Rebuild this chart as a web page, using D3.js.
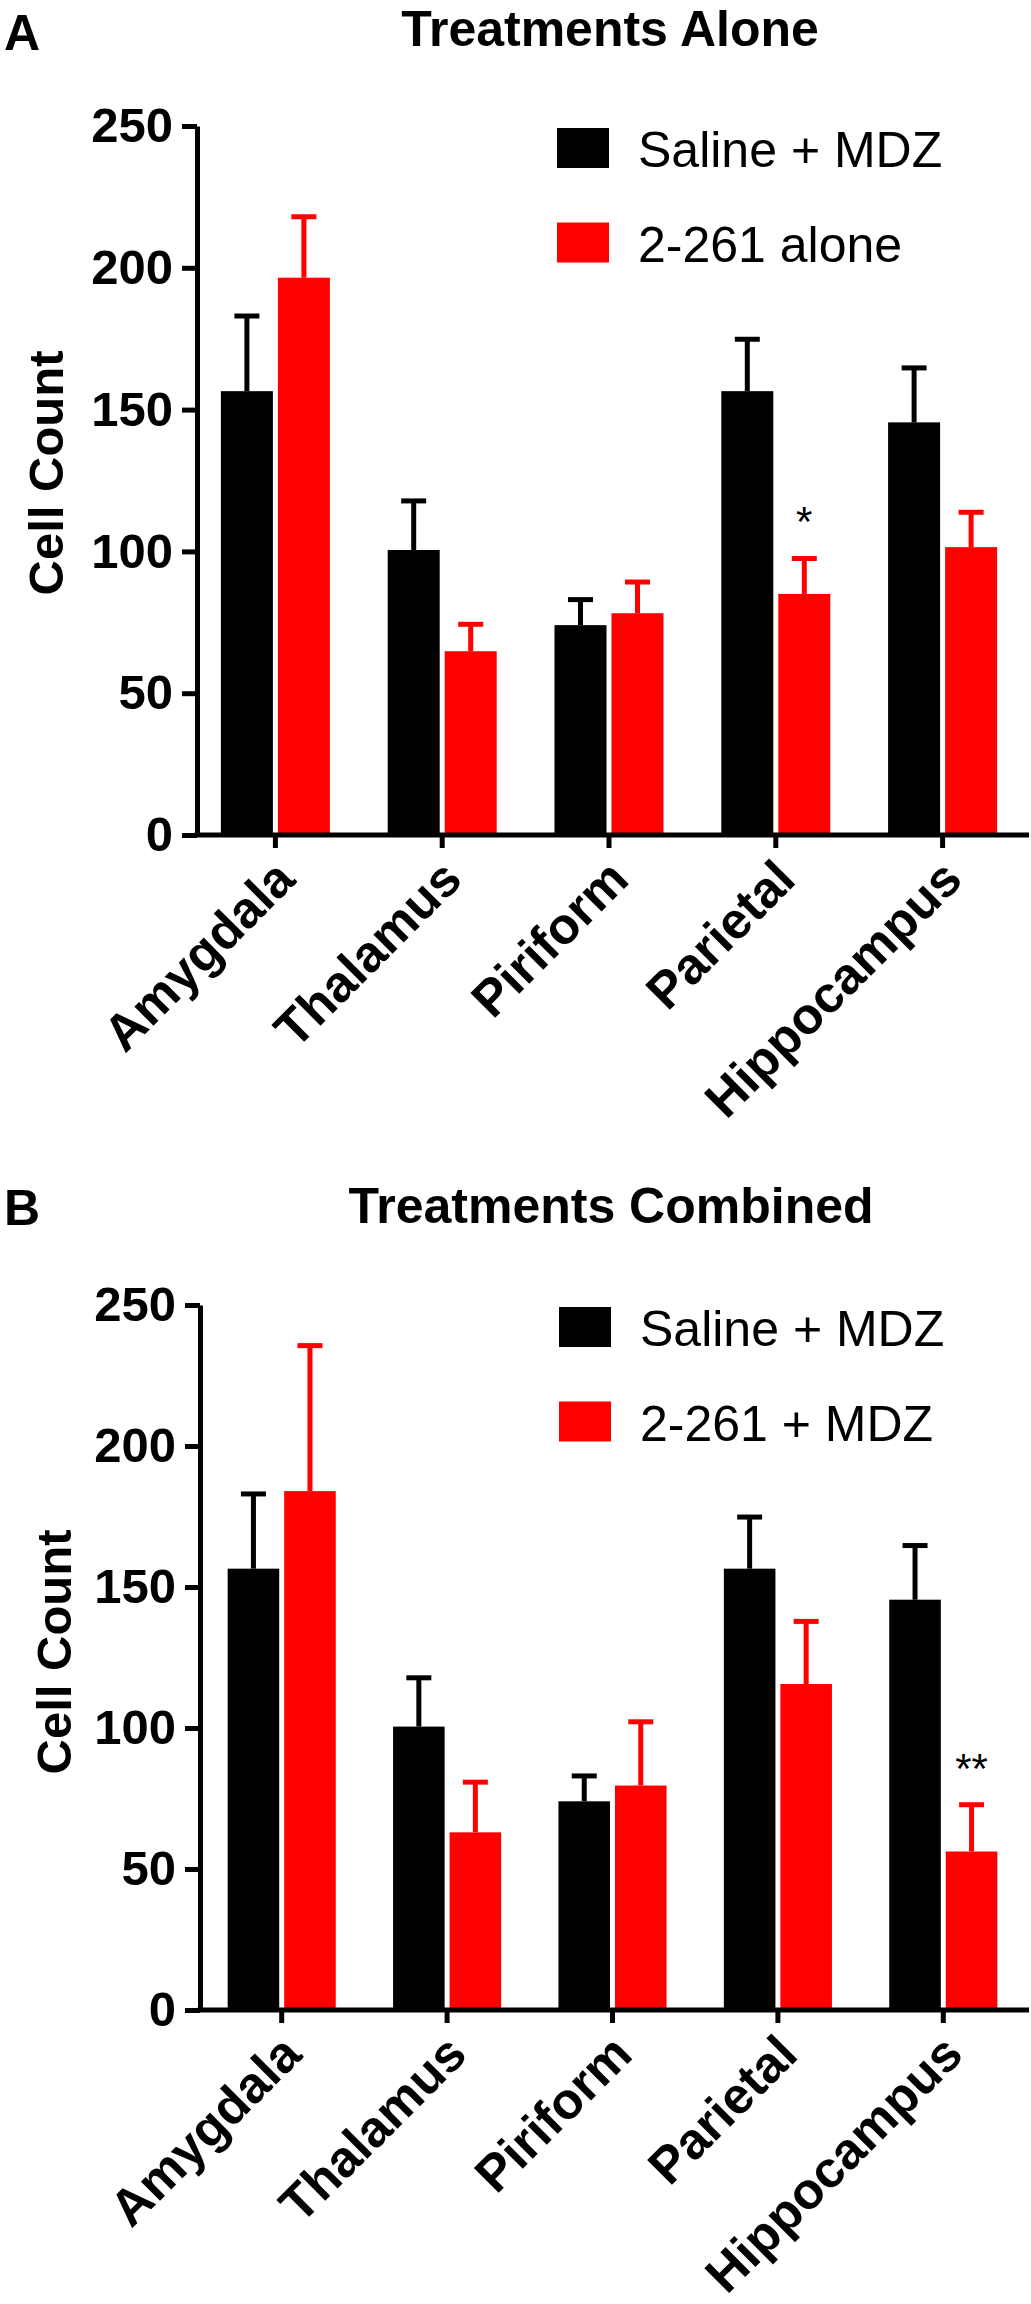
<!DOCTYPE html>
<html>
<head>
<meta charset="utf-8">
<script src="https://cdn.jsdelivr.net/npm/d3@7"></script>
<style>
  body { margin: 0; background: white; }
  svg { display: block; font-family: "Liberation Sans", Arial, sans-serif; }
</style>
</head>
<body>
<div id="my_dataviz"></div>
<script>
var width = 1031;
var height = 2304;

// data
var regions = ["Amygdala", "Thalamus", "Piriform", "Parietal", "Hippocampus"];
var yTicks = [0, 50, 100, 150, 200, 250];

var salineMean = [156.5, 100.5, 74, 156.5, 145.5];
var salineSem = [26.5, 17.3, 9, 18.3, 19.2];

var aloneMean = [196.5, 64.8, 78.2, 85, 101.5];
var aloneSem = [21.5, 9.5, 11, 12.5, 12.3];

var combinedMean = [184, 63, 79.6, 115.6, 56.2];
var combinedSem = [51.6, 17.8, 22.6, 22.2, 16.6];

var aloneStars = [{region: "Parietal", text: "*"}];
var combinedStars = [{region: "Hippocampus", text: "**"}];

var colors = {saline: "#000000", treat: "#ff0000"};

var svg = d3.select("#my_dataviz")
  .append("svg")
    .attr("width", width)
    .attr("height", height);

function drawPanel(p){
  var g = svg.append("g");

  var y = d3.scaleLinear()
    .domain([0, 250])
    .range([p.yZero, p.yTop]);

  // outer band padding = inner/2 keeps the centres at step * (i + .5)
  var x0 = d3.scaleBand()
    .domain(regions)
    .range(p.xRange)
    .paddingInner(0.3465)
    .paddingOuter(0.3465 / 2);

  var x1 = d3.scaleBand()
    .domain(["saline", "treat"])
    .range([0, x0.bandwidth()])
    .paddingInner(0.0877);

  var rows = regions.map(function(r, i){
    return {region: r, values: [
      {key: "saline", mean: salineMean[i], sem: salineSem[i]},
      {key: "treat", mean: p.mean[i], sem: p.sem[i]}]};
  });

  var group = g.selectAll(".grp")
    .data(rows)
    .enter()
    .append("g")
      .attr("class", "grp")
      .attr("transform", d => "translate(" + x0(d.region) + ",0)");

  var bar = group.selectAll(".bar")
    .data(d => d.values)
    .enter()
    .append("g")
      .attr("class", "bar");

  bar.append("rect")
    .attr("x", d => x1(d.key))
    .attr("width", x1.bandwidth())
    .attr("y", d => y(d.mean))
    .attr("height", d => y(0) - y(d.mean))
    .style("fill", d => colors[d.key]);

  // error bars, upper half only
  bar.append("line")
    .attr("x1", d => x1(d.key) + x1.bandwidth() / 2)
    .attr("x2", d => x1(d.key) + x1.bandwidth() / 2)
    .attr("y1", d => y(d.mean))
    .attr("y2", d => y(d.mean + d.sem))
    .attr("stroke", d => colors[d.key])
    .attr("stroke-width", 5);
  bar.append("line")
    .attr("x1", d => x1(d.key) + x1.bandwidth() / 2 - 12.5)
    .attr("x2", d => x1(d.key) + x1.bandwidth() / 2 + 12.5)
    .attr("y1", d => y(d.mean + d.sem))
    .attr("y2", d => y(d.mean + d.sem))
    .attr("stroke", d => colors[d.key])
    .attr("stroke-width", 5);

  // significance marks above the treatment error bar
  g.selectAll(".star")
    .data(p.stars)
    .enter()
    .append("text")
      .attr("class", "star")
      .attr("x", d => x0(d.region) + x1("treat") + x1.bandwidth() / 2)
      .attr("y", function(d){
        var i = regions.indexOf(d.region);
        return y(p.mean[i] + p.sem[i]) - 22;
      })
      .attr("text-anchor", "middle")
      .style("font-size", "42px")
      .text(d => d.text);

  // y axis
  var yAxis = g.append("g")
    .attr("transform", "translate(" + p.axisX + ",0)")
    .call(d3.axisLeft(y).tickValues(yTicks).tickSize(15).tickSizeOuter(0).tickPadding(9));
  yAxis.select(".domain").attr("stroke-width", 5);
  yAxis.selectAll(".tick line").attr("stroke-width", 5);
  yAxis.selectAll(".tick text")
    .attr("fill", "black")
    .style("font-size", "49px")
    .style("font-weight", "bold");

  // x axis
  var xAxis = g.append("g")
    .attr("transform", "translate(0," + p.yZero + ")")
    .call(d3.axisBottom(x0).tickSize(13).tickSizeOuter(0));
  xAxis.select(".domain").remove();
  xAxis.append("line")
    .attr("x1", p.axisX - 2.5)
    .attr("x2", p.xEnd)
    .attr("stroke", "black")
    .attr("stroke-width", 5);
  xAxis.selectAll(".tick line").attr("stroke-width", 5);
  xAxis.selectAll(".tick text")
    .attr("fill", "black")
    .attr("y", 0)
    .attr("dy", 0)
    .attr("text-anchor", "end")
    .attr("transform", "translate(22,47) rotate(-45)")
    .style("font-size", "51px")
    .style("font-weight", "bold");

  // y label
  g.append("text")
    .attr("transform", "translate(" + p.yLabelX + "," + p.yLabelY + ") rotate(-90)")
    .attr("text-anchor", "middle")
    .style("font-size", "49px")
    .style("font-weight", "bold")
    .text("Cell Count");

  // title and panel letter
  g.append("text")
    .attr("x", p.titleX)
    .attr("y", p.titleY)
    .attr("text-anchor", "middle")
    .style("font-size", "50px")
    .style("font-weight", "bold")
    .text(p.title);
  g.append("text")
    .attr("x", 4)
    .attr("y", p.letterY)
    .style("font-size", "50px")
    .style("font-weight", "bold")
    .text(p.letter);

  // legend
  var legendData = [
    {label: "Saline + MDZ", color: colors.saline},
    {label: p.treatLabel, color: colors.treat}];
  var legendItem = g.selectAll(".legend-item")
    .data(legendData)
    .enter()
    .append("g")
      .attr("class", "legend-item")
      .attr("transform", (d, i) => "translate(" + p.legendX + "," + (p.legendY + i * 94.5) + ")");
  legendItem.append("rect")
    .attr("width", 52)
    .attr("height", 40)
    .style("fill", d => d.color);
  legendItem.append("text")
    .attr("x", 81)
    .attr("y", 39)
    .style("font-size", "50px")
    .text(d => d.label);
}

drawPanel({
  letter: "A", title: "Treatments Alone", treatLabel: "2-261 alone",
  mean: aloneMean, sem: aloneSem, stars: aloneStars,
  axisX: 197, yTop: 126, yZero: 835, xRange: [192, 1026], xEnd: 1029,
  titleX: 610, titleY: 46, letterY: 50,
  yLabelX: 63, yLabelY: 473,
  legendX: 557, legendY: 128
});

drawPanel({
  letter: "B", title: "Treatments Combined", treatLabel: "2-261 + MDZ",
  mean: combinedMean, sem: combinedSem, stars: combinedStars,
  axisX: 200, yTop: 1305, yZero: 2010, xRange: [199, 1026], xEnd: 1029,
  titleX: 611, titleY: 1223, letterY: 1225,
  yLabelX: 71, yLabelY: 1652,
  legendX: 559, legendY: 1307
});
</script>
</body>
</html>
